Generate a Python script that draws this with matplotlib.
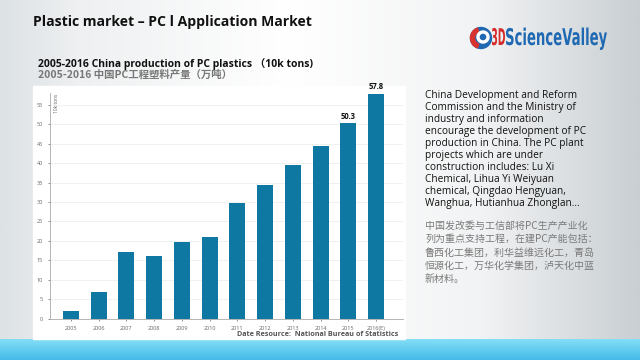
import numpy as np
import matplotlib.pyplot as plt
from matplotlib.patches import Rectangle, Circle, Wedge, PathPatch
from matplotlib.colors import LinearSegmentedColormap
from matplotlib.textpath import TextPath
from matplotlib.font_manager import FontProperties
from matplotlib.transforms import Affine2D

years = ['2005', '2006', '2007', '2008', '2009', '2010', '2011', '2012',
         '2013', '2014', '2015', '2016(E)']
output = [2.1, 6.9, 17.2, 16.1, 19.6, 21.1, 29.8, 34.4, 39.6, 44.3, 50.3, 57.8]
labelled = {10: '50.3', 11: '57.8'}

en_text = ("China Development and Reform\nCommission and the Ministry of\n"
           "industry and information\nencourage the development of PC\n"
           "production in China. The PC plant\nprojects which are under\n"
           "construction includes: Lu Xi\nChemical, Lihua Yi Weiyuan\n"
           "chemical, Qingdao Hengyuan,\nWanghua, Hutianhua Zhonglan...")
cn_text = ("中国发改委与工信部将PC生产产业化\n列为重点支持工程，在建PC产能包括：\n"
           "鲁西化工集团，利华益维远化工，青岛\n恒源化工，万华化学集团，泸天化中蓝\n新材料。")

plt.rcParams['font.family'] = ['Open Sans', 'Noto Sans CJK SC', 'DejaVu Sans']
cjk = ['Noto Sans CJK SC', 'DejaVu Sans']

fig = plt.figure(figsize=(6.4, 3.6), dpi=100)

# slide background, in pixel coords from top-left
bg = fig.add_axes([0, 0, 1, 1], zorder=-10)
bg.axis('off')
cmap = LinearSegmentedColormap.from_list(
    'bg', [(0, '#dde2e5'), (0.12, '#eef0f1'), (0.45, '#ffffff'),
           (0.75, '#f2f3f4'), (1, '#c9cfd3')])
bg.imshow(np.linspace(0, 1, 256).reshape(1, -1), aspect='auto', cmap=cmap,
          extent=[0, 640, 360, 0])
cy = LinearSegmentedColormap.from_list('cy', ['#84def7', '#45bbe8'])
bg.imshow(np.linspace(0, 1, 64).reshape(-1, 1), aspect='auto', cmap=cy,
          extent=[0, 640, 360, 339])
bg.add_patch(Rectangle((33, 86), 372, 253, color='white', zorder=2))
bg.set_xlim(0, 640)
bg.set_ylim(360, 0)

fig.text(33 / 640, 1 - 22 / 360, 'Plastic market – PC l Application Market',
         fontsize=10.1, fontweight='bold', va='center', color='#111111')

# logo
bg.add_patch(Circle((481, 38), 10.5, color='#1f68b2', zorder=3))
bg.add_patch(Wedge((481, 38), 10.5, 110, 250, width=4, color='#d8332f', zorder=4))
bg.add_patch(Wedge((483, 37), 6, 0, 360, width=2, color='white', zorder=4))
bold = FontProperties(family='DejaVu Sans', weight='bold')


def logo_word(s, x0, x1, color):
    tp = TextPath((0, 0), s, size=23, prop=bold)
    ext = tp.get_extents()
    sx = (x1 - x0) / ext.width
    tr = Affine2D().translate(-ext.x0, 0).scale(sx, -1).translate(x0, 45) + bg.transData
    bg.add_patch(PathPatch(tp, transform=tr, color=color, lw=0, zorder=4))


logo_word('3D', 492, 505, '#d42a2a')
logo_word('ScienceValley', 506, 607, '#1f68b2')

fig.text(38 / 640, 1 - 64 / 360, '2005-2016 China production of PC plastics （10k tons)',
         fontsize=7.5, fontweight='bold', va='center', color='#111111')
fig.text(38 / 640, 1 - 75 / 360, '2005-2016 中国PC工程塑料产量（万吨）',
         fontsize=7.5, fontweight='bold', va='center', color='#777777', family=cjk)

ax = fig.add_axes([50 / 640, 1 - 318.7 / 360, 353 / 640, 225.7 / 360])
x = np.arange(len(years))
ax.bar(x, output, width=0.58, color='#0f78a2', zorder=2)
for i, s in labelled.items():
    ax.text(x[i], output[i] + 0.6, s, ha='center', va='bottom', fontsize=5.5,
            fontweight='bold', color='#111111')
ax.set_xlim(-0.75, 11.97)
ax.set_ylim(0, 58)
ax.set_yticks(np.arange(0, 56, 5))
ax.set_xticks(x)
ax.set_xticklabels(years)
ax.tick_params(axis='both', labelsize=4, colors='#666666', length=1.5, width=0.5)
ax.grid(axis='y', color='#eeeeee', linewidth=0.6, zorder=1)
ax.set_axisbelow(True)
for sp in ['top', 'right']:
    ax.spines[sp].set_visible(False)
for sp in ['left', 'bottom']:
    ax.spines[sp].set_color('#aaaaaa')
    ax.spines[sp].set_linewidth(0.6)
ax.text(0.012, 0.995, '10k tons', rotation=90, fontsize=3.5, color='#666666',
        transform=ax.transAxes, va='top', ha='left')
ax.set_facecolor('none')

fig.text(398 / 640, 1 - 334 / 360, 'Date Resource:  National Bureau of Statistics',
         fontsize=5.2, fontweight='bold', ha='right', va='center', color='#555555')

fig.text(425 / 640, 1 - 90 / 360, en_text, fontsize=7.3, va='top', ha='left',
         color='#111111', linespacing=1.12)
fig.text(425 / 640, 1 - 221 / 360, cn_text, fontsize=7.2, va='top', ha='left',
         color='#7a7a7a', linespacing=1.4, family=cjk)

fig.savefig('out.png', dpi=100)
